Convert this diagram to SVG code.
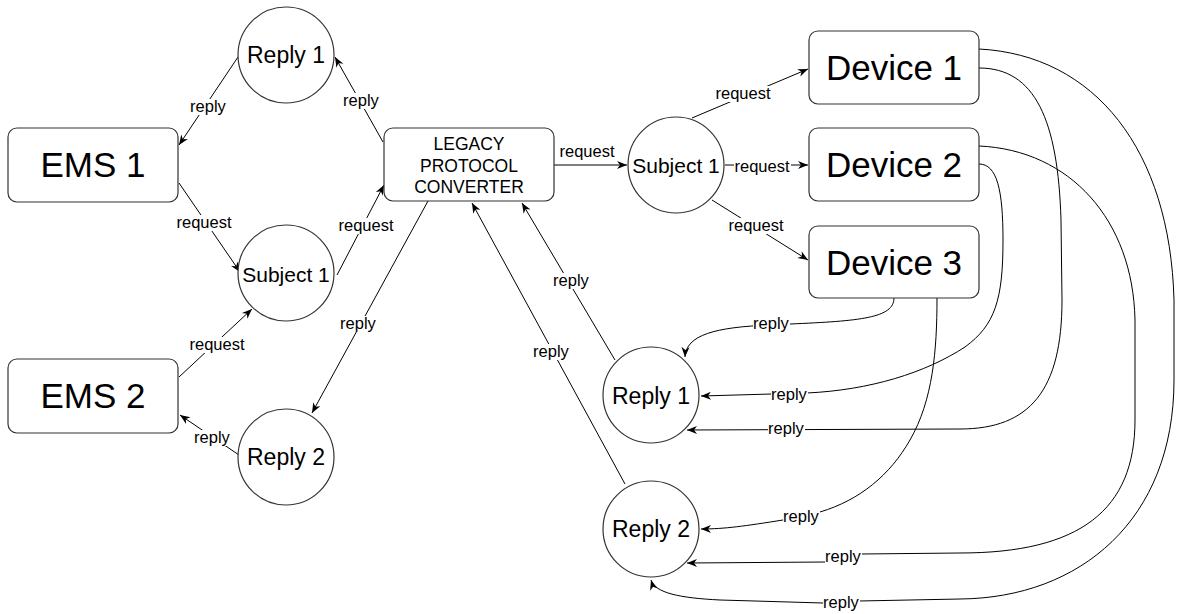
<svg xmlns="http://www.w3.org/2000/svg" width="1180" height="614" viewBox="0 0 1180 614">
  <defs>
    <marker id="arrow" viewBox="-11 -5 12 10" refX="0" refY="0" markerWidth="12" markerHeight="10" markerUnits="userSpaceOnUse" orient="auto">
      <path d="M0,0 L-10,-4 L-7,0 L-10,4 Z" fill="#000"/>
    </marker>
    <style>
      .box { fill: #fff; stroke: #333; stroke-width: 1.2; }
      .edge { fill: none; stroke: #000; stroke-width: 1; marker-end: url(#arrow); }
      .lbl-bg { fill: #fff; }
      text { font-family: "Liberation Sans", Arial, Helvetica, sans-serif; fill: #000; text-anchor: middle; }
      .big { font-size: 35px; }
      .mid { font-size: 23px; }
      .subj { font-size: 21px; }
      .conv { font-size: 17.5px; }
      .lbl { font-size: 16.5px; }
    </style>
  </defs>

  <rect width="1180" height="614" fill="#fff"/>

  <!-- connectors -->
  <g id="connectors">
    <!-- left side -->
    <line class="edge" x1="238" y1="57" x2="179" y2="145"/>
    <line class="edge" x1="383" y1="142" x2="335" y2="57"/>
    <line class="edge" x1="179" y1="183" x2="240" y2="272"/>
    <line class="edge" x1="337" y1="275" x2="384" y2="185"/>
    <line class="edge" x1="179" y1="377" x2="252" y2="309"/>
    <line class="edge" x1="239" y1="455" x2="180" y2="415"/>
    <line class="edge" x1="428" y1="201" x2="312" y2="413"/>
    <!-- converter to subject -->
    <line class="edge" x1="554" y1="165" x2="627" y2="165"/>
    <!-- subject to devices -->
    <line class="edge" x1="692" y1="118" x2="808" y2="69"/>
    <line class="edge" x1="725" y1="165" x2="808" y2="165"/>
    <line class="edge" x1="712" y1="200" x2="808" y2="260"/>
    <!-- replies back to converter -->
    <line class="edge" x1="615" y1="360" x2="522" y2="203"/>
    <line class="edge" x1="625" y1="484" x2="472" y2="203"/>
    <!-- device replies -->
    <path class="edge" d="M894,298 C894,318 860,321 790,324 L771,325 C715,327 686,335 685,357"/>
    <path class="edge" d="M979,164 C997,164 1003,190 1003,240 C1003,300 995,325 965,347 C925,373 870,390 807,393 L701,396"/>
    <path class="edge" d="M979,68 C1035,68 1058,120 1061,220 L1062,300 C1062,390 1030,429 960,429 L687,430"/>
    <path class="edge" d="M937,298 C937,350 933,400 910,440 C890,475 860,500 820,512 L783,520 C745,526 725,529 701,529"/>
    <path class="edge" d="M979,146 C1070,150 1133,220 1135,320 L1135,420 C1135,510 1080,553 960,553 L861,554 L826,562 L687,563"/>
    <path class="edge" d="M979,49 C1095,55 1170,150 1174,300 L1174,380 C1174,520 1080,598 960,599 L859,601 L823,603 L720,600 C680,598 655,593 651,580"/>

    <!-- edge labels -->
    <g id="edge-labels">
      <rect class="lbl-bg" x="190" y="99" width="37" height="16"/>
      <text class="lbl" x="208" y="112">reply</text>
      <rect class="lbl-bg" x="343" y="93" width="37" height="16"/>
      <text class="lbl" x="361" y="106">reply</text>
      <rect class="lbl-bg" x="176" y="215" width="57" height="16"/>
      <text class="lbl" x="204" y="228">request</text>
      <rect class="lbl-bg" x="338" y="218" width="57" height="16"/>
      <text class="lbl" x="366" y="231">request</text>
      <rect class="lbl-bg" x="189" y="337" width="57" height="16"/>
      <text class="lbl" x="217" y="350">request</text>
      <rect class="lbl-bg" x="194" y="430" width="37" height="16"/>
      <text class="lbl" x="212" y="443">reply</text>
      <rect class="lbl-bg" x="340" y="316" width="37" height="16"/>
      <text class="lbl" x="358" y="329">reply</text>
      <text class="lbl" x="587" y="157">request</text>
      <rect class="lbl-bg" x="553" y="273" width="37" height="16"/>
      <text class="lbl" x="571" y="286">reply</text>
      <rect class="lbl-bg" x="533" y="344" width="37" height="16"/>
      <text class="lbl" x="551" y="357">reply</text>
      <rect class="lbl-bg" x="715" y="86" width="57" height="16"/>
      <text class="lbl" x="743" y="99">request</text>
      <rect class="lbl-bg" x="734" y="159" width="57" height="16"/>
      <text class="lbl" x="762" y="172">request</text>
      <rect class="lbl-bg" x="728" y="218" width="57" height="16"/>
      <text class="lbl" x="756" y="231">request</text>
      <rect class="lbl-bg" x="753" y="316" width="37" height="16"/>
      <text class="lbl" x="771" y="329">reply</text>
      <rect class="lbl-bg" x="771" y="387" width="37" height="16"/>
      <text class="lbl" x="789" y="400">reply</text>
      <rect class="lbl-bg" x="768" y="421" width="37" height="16"/>
      <text class="lbl" x="786" y="434">reply</text>
      <rect class="lbl-bg" x="783" y="509" width="37" height="16"/>
      <text class="lbl" x="801" y="522">reply</text>
      <rect class="lbl-bg" x="825" y="549" width="37" height="16"/>
      <text class="lbl" x="843" y="562">reply</text>
      <rect class="lbl-bg" x="823" y="595" width="37" height="16"/>
      <text class="lbl" x="841" y="608">reply</text>
    </g>
  </g>

  <!-- nodes -->
  <g id="ems1">
    <rect class="box" x="8" y="128" width="170" height="74" rx="9"/>
    <text class="big" x="93" y="177">EMS 1</text>
  </g>
  <g id="ems2">
    <rect class="box" x="8" y="359" width="170" height="74" rx="9"/>
    <text class="big" x="93" y="408">EMS 2</text>
  </g>
  <g id="reply1-left">
    <circle class="box" cx="286" cy="55" r="48"/>
    <text class="mid" x="286" y="63">Reply 1</text>
  </g>
  <g id="subject1-left">
    <circle class="box" cx="286" cy="273" r="48"/>
    <text class="subj" x="286" y="282">Subject 1</text>
  </g>
  <g id="reply2-left">
    <circle class="box" cx="286" cy="457" r="48"/>
    <text class="mid" x="286" y="465">Reply 2</text>
  </g>
  <g id="converter">
    <rect class="box" x="384" y="128" width="170" height="73" rx="9"/>
    <text class="conv" x="469" y="150">LEGACY</text>
    <text class="conv" x="469" y="172">PROTOCOL</text>
    <text class="conv" x="469" y="193">CONVERTER</text>
  </g>
  <g id="subject1-right">
    <circle class="box" cx="676" cy="165" r="48"/>
    <text class="subj" x="676" y="173">Subject 1</text>
  </g>
  <g id="device1">
    <rect class="box" x="809" y="31" width="170" height="73" rx="9"/>
    <text class="big" x="894" y="80">Device 1</text>
  </g>
  <g id="device2">
    <rect class="box" x="809" y="128" width="170" height="73" rx="9"/>
    <text class="big" x="894" y="177">Device 2</text>
  </g>
  <g id="device3">
    <rect class="box" x="809" y="226" width="170" height="72" rx="9"/>
    <text class="big" x="894" y="275">Device 3</text>
  </g>
  <g id="reply1-right">
    <circle class="box" cx="651" cy="395" r="48"/>
    <text class="mid" x="651" y="404">Reply 1</text>
  </g>
  <g id="reply2-right">
    <circle class="box" cx="651" cy="529" r="48"/>
    <text class="mid" x="651" y="537">Reply 2</text>
  </g>
</svg>
